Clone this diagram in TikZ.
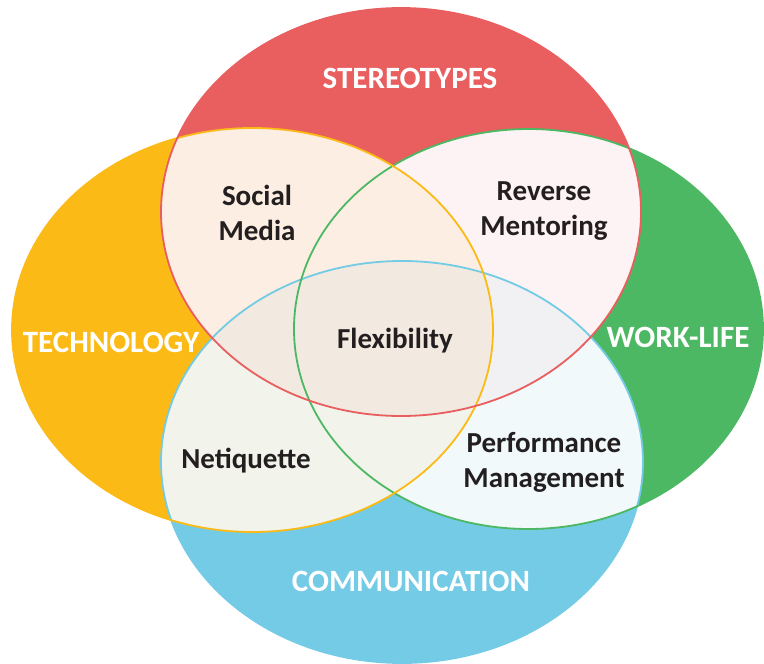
\documentclass[tikz,border=0pt]{standalone}
\usepackage{fontspec}
\setmainfont{Carlito}
\definecolor{cR}{HTML}{E95E5E}
\definecolor{cO}{HTML}{FBBA16}
\definecolor{cG}{HTML}{4DB863}
\definecolor{cB}{HTML}{74CBE5}
\definecolor{tRO}{HTML}{FCEEE2}
\definecolor{tRG}{HTML}{FDF3F4}
\definecolor{tOB}{HTML}{F2F3EA}
\definecolor{tGB}{HTML}{F1F9FA}
\definecolor{tRB}{HTML}{F1F0F3}
\definecolor{tROB}{HTML}{F2EAE0}
\definecolor{ink}{HTML}{231F20}
\def\ER{(401,212) ellipse [x radius=240pt, y radius=204pt]}
\def\EO{(252.5,330) ellipse [x radius=240.5pt, y radius=202pt]}
\def\EG{(528.5,329) ellipse [x radius=234.5pt, y radius=200pt]}
\def\EB{(402,462) ellipse [x radius=241pt, y radius=201pt]}
\begin{document}
\begin{tikzpicture}[x=1pt,y=-1pt,
  rim/.style={line width=1.8pt},
  outerlabel/.style={font=\bfseries\fontsize{31}{34}\selectfont, text=white},
  innerlabel/.style={font=\bfseries\fontsize{29}{35}\selectfont, text=ink, align=center}]
\useasboundingbox (0,0) rectangle (764,664);
% saturated fills
\fill[cR] \ER;
\fill[cO] \EO;
\fill[cG] \EG;
\fill[cB] \EB;
% tinted overlaps
\begin{scope}\clip \ER; \fill[tRG] \EG; \end{scope}
\begin{scope}\clip \EG; \fill[tGB] \EB; \end{scope}
\begin{scope}\clip \ER; \fill[tRB] \EB; \end{scope}
\begin{scope}\clip \ER; \fill[tRO] \EO; \end{scope}
\begin{scope}\clip \EO; \fill[tOB] \EB; \end{scope}
\begin{scope}\clip \ER; \clip \EO; \fill[tROB] \EB; \end{scope}
% outlines
\draw[rim, cB] \EB;
\draw[rim, cG] \EG;
\draw[rim, cO] \EO;
\draw[rim, cR] \ER;
% labels
\node[outerlabel] (stereo) at (410,78) {STEREOTYPES};
\node[outerlabel] (tech) at (111,342) {TECHNOLOGY};
\node[outerlabel] (work) at (678,337) {WORK-LIFE};
\node[outerlabel] (comm) at (411,581) {COMMUNICATION};
\node[innerlabel] (social) at (257,213) {Social\\Media};
\node[innerlabel] (reverse) at (544,211) {Reverse\\Mentoring};
\node[innerlabel] (flex) at (395,341) {Flexibility};
\node[innerlabel] (neti) at (246,461) {Netiquette};
\node[innerlabel] (perf) at (544,462) {Performance\\Management};
\end{tikzpicture}
\end{document}
